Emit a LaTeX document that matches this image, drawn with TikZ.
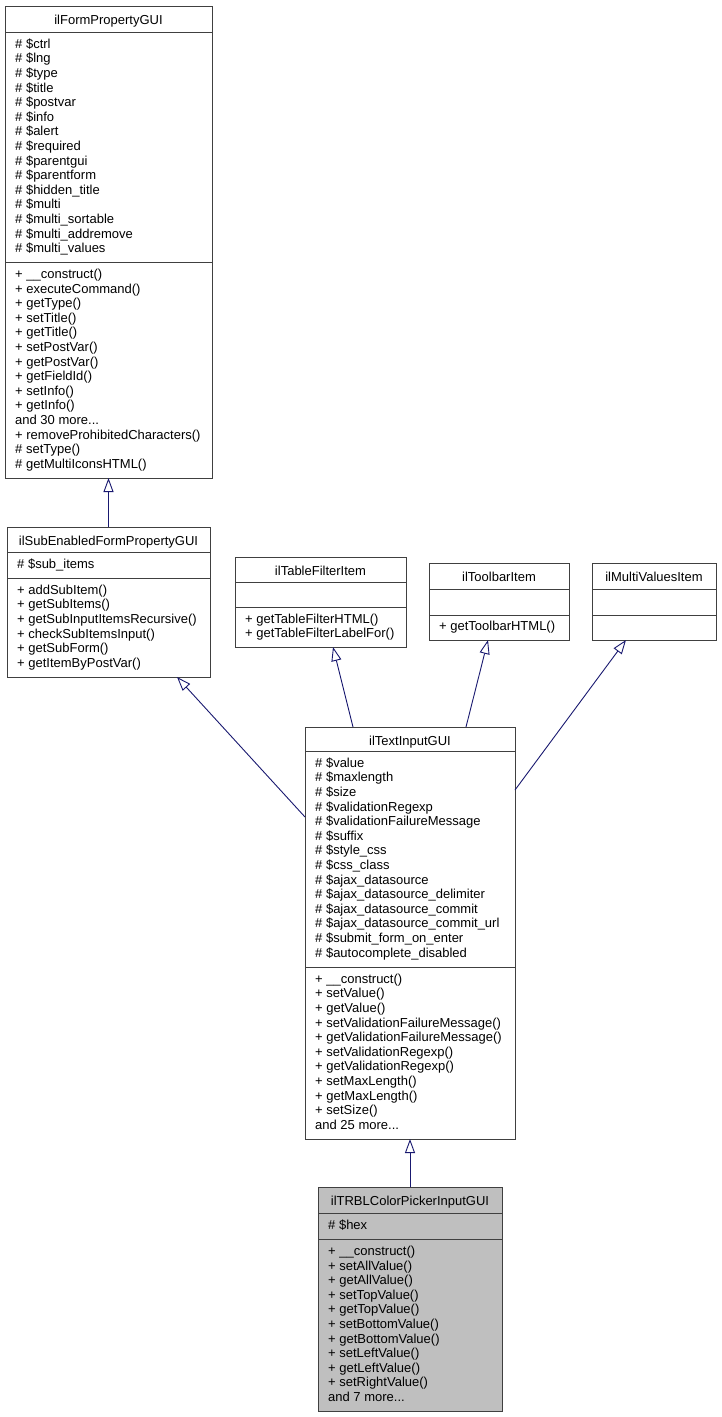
\documentclass[tikz,border=0pt]{standalone}
\usepackage{fontspec}
\setmainfont{Liberation Sans}
\usetikzlibrary{arrows.meta}
\definecolor{edgeblue}{HTML}{191970}
\definecolor{framegray}{HTML}{404040}
\definecolor{hlgray}{HTML}{BFBFBF}
% #1 fill, #2 name, #3 left, #4 right, #5 top, #6 div1, #7 div2, #8 bottom
\newcommand\umlbox[8][white]{%
  \node[classbox, fill=#1, anchor=north west, minimum width={#4pt-#3pt}, minimum height={#8pt-#5pt}] (#2) at (#3,#5) {};
  \draw[divider] (#3,#6) -- (#4,#6);
  \draw[divider] (#3,#7) -- (#4,#7);}
\begin{document}
\begin{tikzpicture}[x=1pt,y=-1pt,
  classbox/.style={draw=framegray, line width=1pt, inner sep=0pt, outer sep=0pt},
  divider/.style={draw=framegray, line width=1pt},
  ttl/.style={font=\fontsize{13}{14.6}\selectfont, inner sep=0pt, anchor=base},
  mem/.style={font=\fontsize{13}{14.6}\selectfont, inner sep=0pt, anchor=north west, align=left},
  inh/.style={draw=edgeblue, line width=0.9pt, -{Triangle[open, length=14pt, width=10pt]}}]
\fill[white] (0,0) rectangle (721,1417);
\useasboundingbox (0,0) rectangle (721,1417);

% ilFormPropertyGUI
\umlbox{fp}{5}{212}{6}{32}{262.3}{478}
\node[ttl] (fp-t) at ({(5+212)/2},24) {ilFormPropertyGUI};
\node[mem] (fp-a) at (15,37.8) {\strut\# \$ctrl\\\# \$lng\\\# \$type\\\# \$title\\\# \$postvar\\\# \$info\\\# \$alert\\\# \$required\\\# \$parentgui\\\# \$parentform\\\# \$hidden\_title\\\# \$multi\\\# \$multi\_sortable\\\# \$multi\_addremove\\\# \$multi\_values};
\node[mem] (fp-m) at (15,268.1) {\strut+ \_\_construct()\\+ executeCommand()\\+ getType()\\+ setTitle()\\+ getTitle()\\+ setPostVar()\\+ getPostVar()\\+ getFieldId()\\+ setInfo()\\+ getInfo()\\and 30 more...\\+ removeProhibitedCharacters()\\\# setType()\\\# getMultiIconsHTML()};

% ilSubEnabledFormPropertyGUI
\umlbox{se}{7}{210}{527}{552}{578}{677}
\node[ttl] (se-t) at ({(7+210)/2},545) {ilSubEnabledFormPropertyGUI};
\node[mem] (se-a) at (17,557.8) {\strut\# \$sub\_items};
\node[mem] (se-m) at (17,583.8) {\strut+ addSubItem()\\+ getSubItems()\\+ getSubInputItemsRecursive()\\+ checkSubItemsInput()\\+ getSubForm()\\+ getItemByPostVar()};

% ilTableFilterItem
\umlbox{tf}{235}{406}{557}{582}{607}{647}
\node[ttl] (tf-t) at ({(235+406)/2},575) {ilTableFilterItem};
\node[mem] (tf-m) at (245,612.8) {\strut+ getTableFilterHTML()\\+ getTableFilterLabelFor()};

% ilToolbarItem
\umlbox{tb}{429}{569}{563}{589}{615}{640}
\node[ttl] (tb-t) at ({(429+569)/2},581) {ilToolbarItem};
\node[mem] (tb-m) at (439,620.5) {\strut+ getToolbarHTML()};

% ilMultiValuesItem
\umlbox{mv}{592}{716}{563}{589}{615}{640}
\node[ttl] (mv-t) at ({(592+716)/2},581) {ilMultiValuesItem};

% ilTextInputGUI
\umlbox{ti}{305}{515}{727}{751}{967}{1139}
\node[ttl] (ti-t) at ({(305+515)/2},745) {ilTextInputGUI};
\node[mem] (ti-a) at (315,756.8) {\strut\# \$value\\\# \$maxlength\\\# \$size\\\# \$validationRegexp\\\# \$validationFailureMessage\\\# \$suffix\\\# \$style\_css\\\# \$css\_class\\\# \$ajax\_datasource\\\# \$ajax\_datasource\_delimiter\\\# \$ajax\_datasource\_commit\\\# \$ajax\_datasource\_commit\_url\\\# \$submit\_form\_on\_enter\\\# \$autocomplete\_disabled};
\node[mem] (ti-m) at (315,972.8) {\strut+ \_\_construct()\\+ setValue()\\+ getValue()\\+ setValidationFailureMessage()\\+ getValidationFailureMessage()\\+ setValidationRegexp()\\+ getValidationRegexp()\\+ setMaxLength()\\+ getMaxLength()\\+ setSize()\\and 25 more...};

% ilTRBLColorPickerInputGUI
\umlbox[hlgray]{tr}{318}{502}{1187}{1213.3}{1239.3}{1411}
\node[ttl] (tr-t) at ({(318+502)/2},1205) {ilTRBLColorPickerInputGUI};
\node[mem] (tr-a) at (328,1219.1) {\strut\# \$hex};
\node[mem] (tr-m) at (328,1245.1) {\strut+ \_\_construct()\\+ setAllValue()\\+ getAllValue()\\+ setTopValue()\\+ getTopValue()\\+ setBottomValue()\\+ getBottomValue()\\+ setLeftValue()\\+ getLeftValue()\\+ setRightValue()\\and 7 more...};

% connector end points
\coordinate (se-in) at (177,677);
\coordinate (ti-from-se) at (305,817);
\coordinate (tf-in) at (333,647);
\coordinate (ti-from-tf) at (353,727);
\coordinate (tb-in) at (488,640);
\coordinate (ti-from-tb) at (466,727);
\coordinate (mv-in) at (626,640);
\coordinate (ti-from-mv) at (515,790);

\draw[inh] (se.north) -- (fp.south);
\draw[inh] (ti-from-se) -- (se-in);
\draw[inh] (ti-from-tf) -- (tf-in);
\draw[inh] (ti-from-tb) -- (tb-in);
\draw[inh] (ti-from-mv) -- (mv-in);
\draw[inh] (tr.north) -- (ti.south);
\end{tikzpicture}
\end{document}
